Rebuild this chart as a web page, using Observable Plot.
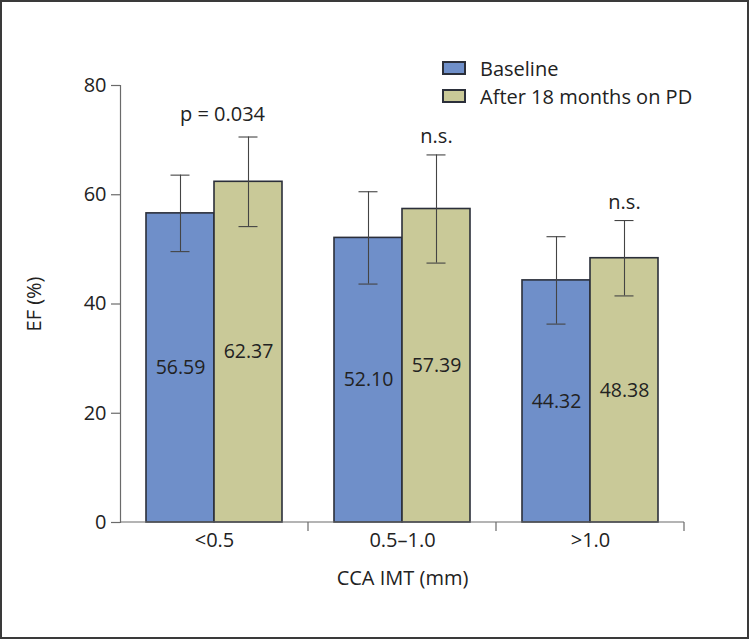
<!DOCTYPE html>
<html><head><meta charset="utf-8">
<script src="https://cdn.jsdelivr.net/npm/d3@7"></script>
<script src="https://cdn.jsdelivr.net/npm/@observablehq/plot@0.6"></script>
<style>
html,body{margin:0;padding:0;background:#fff;}
#fig{position:relative;width:749px;height:639px;overflow:hidden;font-family:"Open Sans",sans-serif;background:#fff;}
#border{position:absolute;left:0;top:0;width:749px;height:639px;box-sizing:border-box;border:2px solid #3a3a3a;pointer-events:none;z-index:3;}
#chart{position:absolute;left:0;top:0;}
#legend{position:absolute;left:442px;top:54px;z-index:2;font-size:20px;color:#222;}
.row{display:flex;align-items:center;height:28px;}
.sw{width:24px;height:14px;box-sizing:border-box;border:2px solid #2b2f3a;margin-right:14px;}
</style></head>
<body>
<div id="fig"><div id="chart"></div><div id="legend"></div><div id="border"></div></div>
<script>
const groups = ["<0.5", "0.5–1.0", ">1.0"];
const series = ["Baseline", "After 18 months on PD"];
const baseline = [56.59, 52.10, 44.32];
const after = [62.37, 57.39, 48.38];
const baselineErr = [7.0, 8.45, 8.0];
const afterErr = [8.2, 9.9, 6.9];
const annotations = ["p = 0.034", "n.s.", "n.s."];
const yTicks = [0, 20, 40, 60, 80];
const colors = ["#6f8fc9", "#c9c998"];

const rows = [];
groups.forEach((g, i) => {
  rows.push({group: g, series: series[0], value: baseline[i], err: baselineErr[i]});
  rows.push({group: g, series: series[1], value: after[i], err: afterErr[i]});
});
const annot = groups.map((g, i) => ({group: g, series: series[1], top: after[i] + afterErr[i], text: annotations[i], idx: i}));

// drawn once per facet: the facet's stretch of the x-axis line and a tick at its right edge
const facetAxisLine = (index, scales, values, dims) => {
  const g = d3.create("svg:g").attr("stroke", "#6a6a6a").attr("stroke-width", 1.2).attr("fill", "none");
  const y = scales.y;
  const [x0, x1] = scales.x.range();
  g.append("line").attr("x1", x0).attr("x2", x1).attr("y1", y(0)).attr("y2", y(0));
  g.append("line").attr("x1", x1).attr("x2", x1).attr("y1", y(0)).attr("y2", y(0) + 9);
  return g.node();
};

const chart = Plot.plot({
  width: 749,
  height: 639,
  marginLeft: 119,
  marginRight: 65,
  marginTop: 85,
  marginBottom: 117,
  style: {fontFamily: "'Open Sans', sans-serif", fontSize: "20px", color: "#222", background: "transparent"},
  fx: {domain: groups, padding: 0, tickSize: 0, tickPadding: 10, label: "CCA IMT (mm)", labelAnchor: "center", labelOffset: 62},
  x: {domain: series, paddingInner: 0, paddingOuter: 0.382, axis: null},
  y: {domain: [0, 80], axis: null},
  color: {domain: series, range: colors},
  marks: [
    Plot.frame({anchor: "left", facetAnchor: "left", stroke: "#6a6a6a", strokeWidth: 1.2}),
    Plot.axisY({ticks: yTicks, tickSize: 9, tickPadding: 5, label: "EF (%)", labelAnchor: "center", labelOffset: 94, labelArrow: false, stroke: "#6a6a6a", fill: "#222", strokeWidth: 1.2}),
    Plot.barY(rows, {fx: "group", x: "series", y: "value", fill: "series", stroke: "#2b2f3a", strokeWidth: 1.6}),
    Plot.ruleX(rows, {fx: "group", x: "series", y1: d => d.value - d.err, y2: d => d.value + d.err, stroke: "#444", strokeWidth: 1.1}),
    Plot.tickY(rows, {fx: "group", x: "series", y: d => d.value + d.err, insetLeft: 24.5, insetRight: 24.5, stroke: "#444", strokeWidth: 1.1}),
    Plot.tickY(rows, {fx: "group", x: "series", y: d => d.value - d.err, insetLeft: 24.5, insetRight: 24.5, stroke: "#444", strokeWidth: 1.1}),
    Plot.text(rows, {fx: "group", x: "series", y: d => d.value / 2, text: d => d.value.toFixed(2), fontSize: 19.5, fill: "#222"}),
    Plot.text(annot.filter(d => d.idx === 0), {fx: "group", x: "series", y: "top", text: "text", dy: -22, dx: -26, fontSize: 20, fill: "#222"}),
    Plot.text(annot.filter(d => d.idx !== 0), {fx: "group", x: "series", y: "top", text: "text", dy: -18, fontSize: 20, fill: "#222"}),
    facetAxisLine
  ]
});
document.getElementById("chart").appendChild(chart);

const legend = d3.select("#legend");
series.forEach((s, i) => {
  const r = legend.append("div").attr("class", "row");
  r.append("div").attr("class", "sw").style("background", colors[i]);
  r.append("span").text(s);
});
</script>
</body></html>
